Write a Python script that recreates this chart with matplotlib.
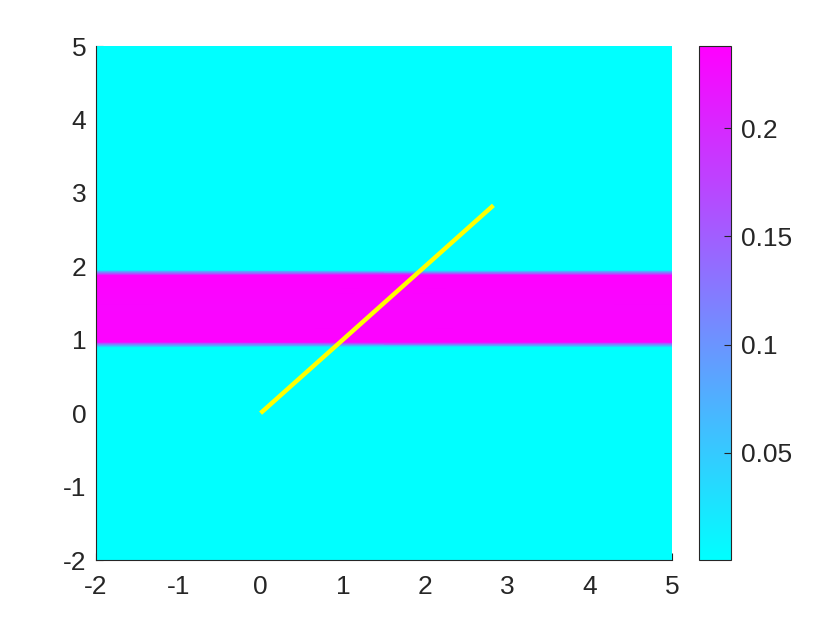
import numpy as np
import matplotlib
matplotlib.use("Agg")
import matplotlib.pyplot as plt

# field profile (constant along x)
x_grid = [-2.0, 5.0]
y_profile = [-2.0, 0.90, 0.97, 1.45, 1.88, 1.95, 5.0]
v_profile = [0.0005, 0.0005, 0.236, 0.232, 0.238, 0.0005, 0.0005]

# line
line_x = [0.0, 2.83]
line_y = [0.0, 2.83]

x_ticks = [-2, -1, 0, 1, 2, 3, 4, 5]
y_ticks = [-2, -1, 0, 1, 2, 3, 4, 5]
cbar_ticks = [0.05, 0.1, 0.15, 0.2]
cbar_labels = ['0.05', '0.1', '0.15', '0.2']
clim = (0.0005, 0.238)

plt.rcParams['font.family'] = ['Liberation Sans', 'DejaVu Sans']
plt.rcParams['axes.unicode_minus'] = False
txt = (0.15, 0.15, 0.15)
fs = 19

fig = plt.figure(figsize=(8.4, 6.3), dpi=100)
ax = fig.add_axes([96/840, 1-560/630, (672-96)/840, (560-46)/630])
cax = fig.add_axes([699/840, 1-560/630, 32/840, (560-46)/630])

X, Y = np.meshgrid(x_grid, y_profile)
V = np.tile(np.array(v_profile)[:, None], (1, len(x_grid)))
mesh = ax.pcolormesh(X, Y, V, cmap='cool', shading='gouraud', vmin=clim[0], vmax=clim[1])
ax.plot(line_x, line_y, color=(1, 1, 0), lw=3.2, solid_capstyle='butt', zorder=3)

ax.set_xlim(-2, 5)
ax.set_ylim(-2, 5)
ax.set_xticks(x_ticks)
ax.set_yticks(y_ticks)
ax.set_axisbelow(True)
for s in ['top', 'right']:
    ax.spines[s].set_visible(False)
for s in ['left', 'bottom']:
    ax.spines[s].set_color(txt)
    ax.spines[s].set_linewidth(0.8)
ax.tick_params(direction='in', length=5, width=0.8, colors=txt, labelsize=fs)
ax.tick_params(axis='x', pad=11)
ax.tick_params(axis='y', pad=7)

cb = fig.colorbar(mesh, cax=cax)
cb.set_ticks(cbar_ticks)
cb.set_ticklabels(cbar_labels)
cb.outline.set_edgecolor(txt)
cb.outline.set_linewidth(0.8)
cax.tick_params(direction='in', length=5, width=0.8, colors=txt, labelsize=fs, pad=7)

fig.savefig('out.png', dpi=100)
